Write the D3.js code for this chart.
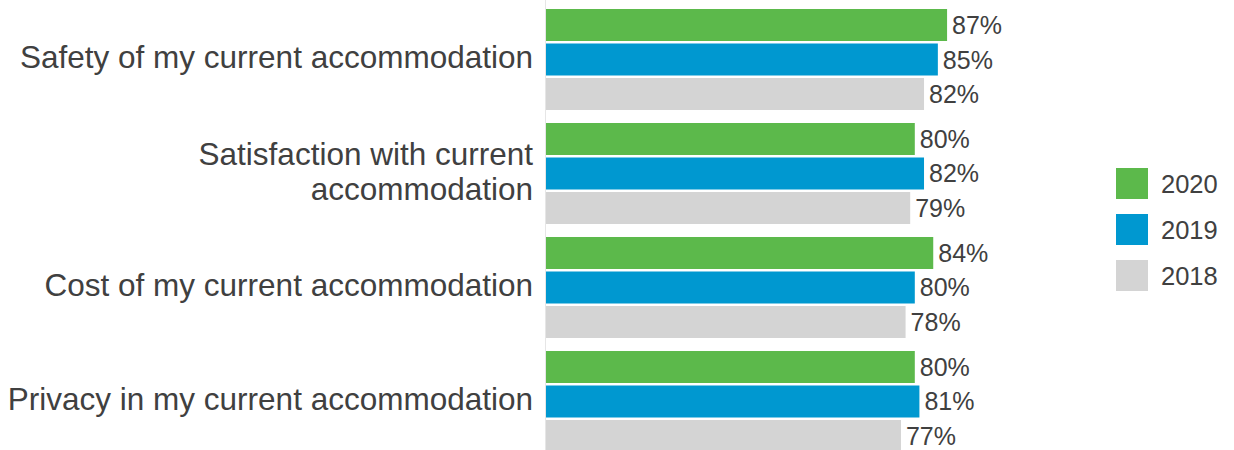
<!DOCTYPE html>
<html>
<head>
<meta charset="utf-8">
<script src="https://cdn.jsdelivr.net/npm/d3@7"></script>
<style>
  html, body { margin: 0; padding: 0; background: #fff; }
  svg { display: block; font-family: "Liberation Sans", Arial, sans-serif; }
</style>
</head>
<body>
<svg id="chart" width="1234" height="450"></svg>
<script>
// Survey items (label lines) and yearly shares in percent
const categories = [
  ["Safety of my current accommodation"],
  ["Satisfaction with current", "accommodation"],
  ["Cost of my current accommodation"],
  ["Privacy in my current accommodation"]
];
const years = ["2020", "2019", "2018"];
const values2020 = [87, 80, 84, 80];
const values2019 = [85, 82, 80, 81];
const values2018 = [82, 79, 78, 77];
const colors = ["#5cb94b", "#0098d0", "#d4d4d4"];

const series = [values2020, values2019, values2018];
const catKeys = categories.map(c => c.join(" "));

const svg = d3.select("#chart");
const textColor = "#404040";

const x = d3.scaleLinear().domain([0, 100]).range([546, 1007]);
const y0 = d3.scaleBand().domain(catKeys).range([9, 452]).paddingInner(0.114).paddingOuter(0);
const y1 = d3.scaleBand().domain(years).range([0, y0.bandwidth()]).paddingInner(0.0725).paddingOuter(0);

// baseline axis
svg.append("line")
  .attr("x1", x(0) - 0.5).attr("x2", x(0) - 0.5)
  .attr("y1", 0).attr("y2", 450)
  .attr("stroke", "#e6e6e6").attr("stroke-width", 1);

const groups = svg.selectAll("g.cat")
  .data(catKeys)
  .join("g")
  .attr("class", "cat")
  .attr("transform", d => `translate(0,${y0(d)})`);

groups.each(function (key, i) {
  const g = d3.select(this);
  years.forEach((yr, s) => {
    const v = series[s][i];
    g.append("rect")
      .attr("x", x(0))
      .attr("y", y1(yr))
      .attr("width", x(v) - x(0))
      .attr("height", y1.bandwidth())
      .attr("fill", colors[s]);
    g.append("text")
      .attr("x", x(v) + 5)
      .attr("y", y1(yr) + y1.bandwidth() / 2)
      .attr("dy", "0.36em")
      .attr("font-size", 25)
      .attr("fill", textColor)
      .text(v + "%");
  });

  // category label, possibly on two lines
  const lines = categories[i];
  const cy = y0.bandwidth() / 2;
  const lh = 35;
  const t = g.append("text")
    .attr("text-anchor", "end")
    .attr("font-size", 31.5)
    .attr("fill", textColor);
  lines.forEach((ln, k) => {
    t.append("tspan")
      .attr("x", 533)
      .attr("y", cy + (k - (lines.length - 1) / 2) * lh)
      .attr("dy", "0.28em")
      .text(ln);
  });
});

// legend
const legend = svg.append("g").attr("transform", "translate(1116,168)");
years.forEach((yr, s) => {
  const lg = legend.append("g").attr("transform", `translate(0,${s * 46})`);
  lg.append("rect").attr("width", 32).attr("height", 31).attr("fill", colors[s]);
  lg.append("text")
    .attr("x", 45).attr("y", 16).attr("dy", "0.36em")
    .attr("font-size", 25.5).attr("fill", textColor)
    .text(yr);
});
</script>
</body>
</html>
